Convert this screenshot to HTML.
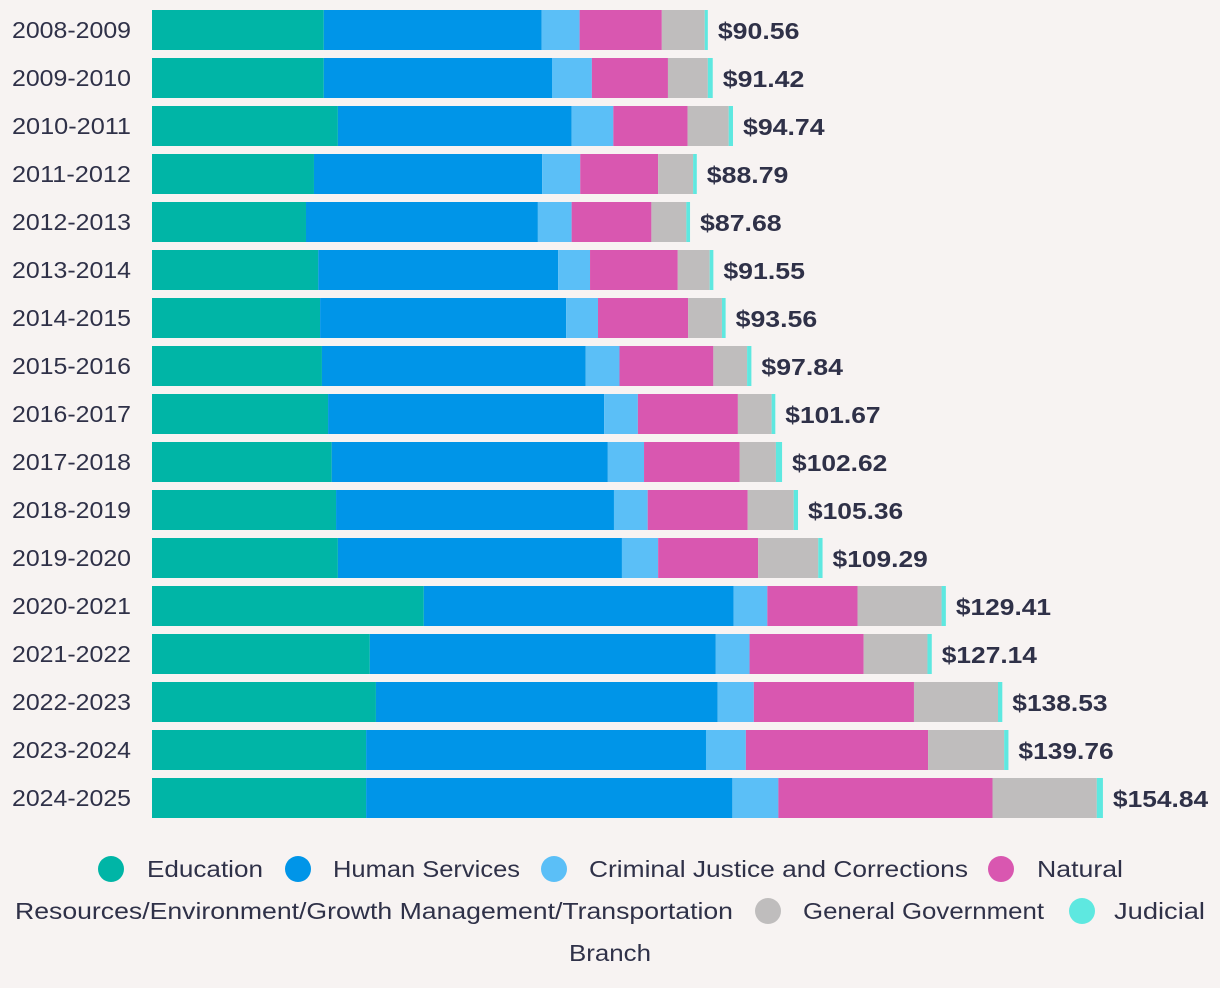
<!DOCTYPE html>
<html><head><meta charset="utf-8"><style>
html,body{margin:0;padding:0;background:#f7f3f2;}
svg{display:block;font-family:"Liberation Sans",sans-serif;}
</style></head><body>
<svg id="chart" width="1220" height="988" viewBox="0 0 1220 988">
<rect width="1220" height="988" fill="#f7f3f2"/>
<g id="bars"></g>
<g id="legend"></g>
</svg>
<script>
const years = ["2008-2009","2009-2010","2010-2011","2011-2012","2012-2013","2013-2014","2014-2015","2015-2016","2016-2017","2017-2018","2018-2019","2019-2020","2020-2021","2021-2022","2022-2023","2023-2024","2024-2025"];
const seriesNames = ["Education","Human Services","Criminal Justice and Corrections","Natural Resources/Environment/Growth Management/Transportation","General Government","Judicial Branch"];
const education = [28.0,28.0,30.3,26.4,25.1,27.1,27.4,27.7,28.7,29.3,30.0,30.3,44.3,35.5,36.5,34.9,34.9];
const humanServices = [35.5,37.2,38.1,37.2,37.8,39.1,40.1,43.0,45.0,45.0,45.3,46.3,50.5,56.4,55.7,55.4,59.7];
const criminalJustice = [6.2,6.5,6.8,6.2,5.5,5.2,5.2,5.5,5.5,5.9,5.5,5.9,5.5,5.5,5.9,6.5,7.5];
const natural = [13.4,12.4,12.1,12.7,13.0,14.3,14.7,15.3,16.3,15.6,16.3,16.3,14.7,18.6,26.1,29.7,34.9];
const generalGov = [7.0,6.5,6.7,5.7,5.7,5.2,5.5,5.5,5.5,5.9,7.5,9.8,13.7,10.4,13.7,12.4,17.0];
const judicial = [0.5,0.8,0.7,0.6,0.6,0.6,0.6,0.7,0.6,1.0,0.7,0.7,0.7,0.7,0.7,0.7,1.0];
const totals = ["$90.56","$91.42","$94.74","$88.79","$87.68","$91.55","$93.56","$97.84","$101.67","$102.62","$105.36","$109.29","$129.41","$127.14","$138.53","$139.76","$154.84"];

const colors = ["#00b5a6","#0095e8","#5bbff7","#d957b0","#bfbdbd","#5ee8e0"];
const series = [education,humanServices,criminalJustice,natural,generalGov,judicial];
const NS = "http://www.w3.org/2000/svg";
const x0 = 152, pxPer = 6.135;
const xScale = v => x0 + v * pxPer;
const yScale = i => 10 + i * 48;
const bars = document.getElementById("bars");
function mk(tag, attrs){const e=document.createElementNS(NS,tag);for(const k in attrs)e.setAttribute(k,attrs[k]);return e;}
years.forEach((yr,i)=>{
  const y = yScale(i);
  const lbl = mk("text",{x:12,y:y+28,"font-size":"23","fill":"#2f3148",textLength:119,lengthAdjust:"spacingAndGlyphs"});
  lbl.textContent = yr;
  
  
  bars.appendChild(lbl);
  let cum = 0;
  series.forEach((s,k)=>{
    const r = mk("rect",{x:xScale(cum),y:y,width:Math.max(0,s[i]*pxPer),height:40,fill:colors[k]});
    
    
    bars.appendChild(r);
    cum += s[i];
  });
  const t = mk("text",{x:xScale(cum)+10,y:y+29,"font-size":"23","font-weight":"bold","fill":"#2f3148",textLength:totals[i].length*13.6,lengthAdjust:"spacingAndGlyphs"});
  t.textContent = totals[i];
  
  
  bars.appendChild(t);
});
const legend = document.getElementById("legend");
const items = [
  {c:0,cx:111,cy:869,parts:[{t:"Education",x:147,y:877,w:116}]},
  {c:1,cx:298,cy:869,parts:[{t:"Human Services",x:333,y:877,w:187}]},
  {c:2,cx:554,cy:869,parts:[{t:"Criminal Justice and Corrections",x:589,y:877,w:379}]},
  {c:3,cx:1001,cy:869,parts:[{t:"Natural",x:1037,y:877,w:86},{t:"Resources/Environment/Growth Management/Transportation",x:15,y:919,w:718}]},
  {c:4,cx:768,cy:911,parts:[{t:"General Government",x:803,y:919,w:241}]},
  {c:5,cx:1082,cy:911,parts:[{t:"Judicial",x:1114,y:919,w:91},{t:"Branch",x:569,y:961,w:82}]}
];
items.forEach(it=>{
  const c = mk("circle",{cx:it.cx,cy:it.cy,r:13,fill:colors[it.c]});
  
  
  legend.appendChild(c);
  it.parts.forEach(p=>{
    const t = mk("text",{x:p.x,y:p.y,"font-size":"23",fill:"#2f3148",textLength:p.w,lengthAdjust:"spacingAndGlyphs"});
    t.textContent = p.t;
    
    
    legend.appendChild(t);
  });
});
</script>
</body></html>
